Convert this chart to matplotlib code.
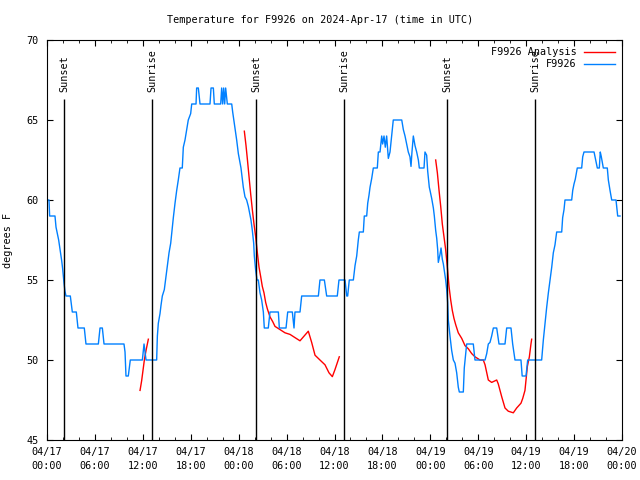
import matplotlib
matplotlib.use("Agg")
import matplotlib.pyplot as plt
import numpy as np

plt.rcParams['font.family'] = ['DejaVu Sans Mono']
plt.rcParams['font.size'] = 7.3

# observed temperature, F9926 (hours since 04/17 00:00 UTC, deg F)
obs_hours = [0.0, 0.25, 0.33, 1.0, 1.13, 1.25, 1.46, 1.67, 1.84, 1.96, 2.13, 2.25, 2.38, 2.92,
             3.09, 3.17, 3.67, 3.88, 4.67, 4.88, 6.43, 6.64, 6.93, 7.14, 9.64, 9.77, 9.89,
             10.18, 10.43, 11.94, 12.15, 12.4, 13.73, 13.82, 13.94, 14.15, 14.27, 14.44,
             14.69, 14.9, 15.07, 15.28, 15.49, 15.69, 15.82, 16.03, 16.24, 16.44, 16.65,
             16.94, 17.07, 17.28, 17.49, 17.69, 17.99, 18.12, 18.66, 18.74, 18.95, 19.16,
             20.41, 20.54, 20.83, 20.95, 21.75, 21.87, 22.0, 22.12, 22.25, 22.37, 22.58,
             23.13, 23.25, 23.45, 23.75, 23.96, 24.29, 24.58, 24.79, 25.0, 25.21, 25.54,
             25.71, 25.88, 25.96, 26.13, 26.3, 26.46, 26.67, 26.88, 27.09, 27.21, 27.71,
             27.92, 28.97, 29.09, 29.93, 30.14, 30.72, 30.93, 31.05, 31.68, 31.89, 33.98,
             34.18, 34.73, 35.02, 36.35, 36.56, 37.32, 37.53, 37.65, 37.85, 38.36, 38.57,
             38.78, 38.98, 39.11, 39.61, 39.73, 40.03, 40.16, 40.32, 40.45, 40.66, 40.86,
             41.36, 41.49, 41.7, 41.91, 42.03, 42.2, 42.36, 42.53, 42.74, 42.95, 43.16,
             43.36, 44.42, 44.62, 44.83, 45.04, 45.24, 45.45, 45.58, 45.7, 45.87, 46.08,
             46.29, 46.5, 46.62, 47.21, 47.33, 47.54, 47.67, 47.87, 47.96, 48.17, 48.38,
             48.5, 48.67, 48.8, 48.92, 49.0, 49.21, 49.34, 49.5, 49.63, 49.75, 49.92,
             50.05, 50.17, 50.25, 50.46, 50.67, 50.88, 51.09, 51.3, 51.5, 51.63, 52.13,
             52.25, 52.43, 52.55, 53.38, 53.59, 54.85, 55.06, 55.26, 55.47, 55.68, 55.89,
             56.31, 56.6, 57.35, 57.56, 58.1, 58.31, 58.6, 59.35, 59.5, 59.98, 60.19,
             61.94, 62.15, 62.36, 62.57, 62.78, 62.99, 63.2, 63.4, 63.61, 63.82, 64.45,
             64.57, 64.74, 64.86, 65.7, 65.83, 65.99, 66.15, 66.4, 66.95, 67.08, 67.24,
             68.5, 68.62, 68.75, 68.91, 69.16, 69.28, 69.41, 69.66, 70.16, 70.29, 70.5,
             70.71, 71.25, 71.46, 71.75]
obs_temps = [60, 60, 59, 59, 58.3, 58, 57.5, 56.8, 56.2, 55.7, 54.8, 54.3, 54, 54,
             53.3, 53, 53, 52, 52, 51, 51, 52, 52, 51, 51, 50.5, 49,
             49, 50, 50, 51, 50, 50, 51.5, 52.3, 52.9, 53.4, 54,
             54.4, 55.2, 55.8, 56.7, 57.3, 58.3, 58.9, 59.8, 60.6, 61.25, 62,
             62, 63.3, 63.75, 64.4, 65, 65.4, 66, 66, 67, 67, 66,
             66, 67, 67, 66, 66, 67, 66, 67, 66, 67, 66,
             66, 65.5, 64.8, 63.75, 62.9, 62, 60.8, 60.2, 60, 59.6, 58.75,
             58.1, 57.3, 56.5, 55.6, 55, 55, 54.2, 53.75, 53, 52, 52,
             53, 53, 52, 52, 53, 53, 52, 53, 53, 54, 54,
             55, 55, 54, 54, 55, 55, 54, 54, 55, 55, 55.9,
             56.5, 57.5, 58, 58, 59, 59, 59.8, 60.3, 60.8, 61.35, 62,
             62, 63, 63, 64, 63.5, 64, 63.3, 64, 62.6, 63, 64,
             65, 65, 64.4, 64, 63.5, 63, 62.7, 62.1, 63, 64, 63.4,
             63, 62.5, 62, 62, 63, 62.8, 61.8, 60.8, 60.6, 60.1, 59.5,
             59, 58.1, 57.6, 56.9, 56.1, 56.6, 57, 56.3, 56, 55.6, 55,
             54.4, 53.6, 52.5, 51.5, 50.6, 50, 49.8, 49.2, 48.3, 48, 48,
             49.5, 50.4, 51, 51, 50, 50, 50.4, 51, 51.1, 51.5, 52,
             52, 51, 51, 52, 52, 51, 50, 50, 49, 49, 50,
             50, 51.25, 52.3, 53.3, 54.2, 55, 55.8, 56.7, 57.2, 58, 58,
             58.9, 59.4, 60, 60, 60.6, 61, 61.3, 62, 62, 62.7, 63,
             63, 62.7, 62.4, 62, 62, 63, 62.7, 62, 62, 61.25, 60.6,
             60, 60, 59, 59]

# analysis runs, F9926 Analysis
ana1_hours = [11.65, 11.85, 12.06, 12.19, 12.4, 12.69]
ana1_temps = [48.1, 48.7, 49.5, 50.0, 50.6, 51.3]
ana2_hours = [24.71, 24.92, 25.08, 25.29, 25.5, 25.71, 25.92, 26.13, 26.34, 26.55, 26.76,
              26.96, 27.17, 27.38, 27.59, 27.92, 28.26, 28.55, 29.18, 29.8, 30.43, 31.05,
              31.68, 32.72, 33.14, 33.56, 34.18, 34.81, 35.31, 35.73, 36.06, 36.6]
ana2_temps = [64.3, 63.4, 62.6, 61.5, 60.4, 59.4, 58.5, 57.7, 56.7, 55.8, 55.2,
              54.6, 54.2, 53.6, 53.2, 52.7, 52.4, 52.1, 51.9, 51.7, 51.6, 51.4,
              51.2, 51.8, 51.1, 50.3, 50.0, 49.7, 49.2, 48.96, 49.4, 50.2]
ana3_hours = [48.67, 48.88, 49.09, 49.3, 49.5, 49.71, 49.92, 50.13, 50.34, 50.55, 50.75,
              50.96, 51.18, 51.5, 51.93, 52.34, 52.76, 53.18, 53.59, 54.22, 54.63, 54.85,
              55.26, 55.68, 56.31, 56.51, 56.94, 57.35, 57.76, 58.39, 58.81, 59.35, 59.57,
              59.85, 59.98, 60.15, 60.4, 60.6, 60.69]
ana3_temps = [62.5, 61.7, 60.6, 59.6, 58.5, 57.7, 56.9, 55.8, 54.6, 53.75, 53.1,
              52.6, 52.2, 51.7, 51.35, 50.9, 50.7, 50.4, 50.2, 50.0, 50.0, 49.7,
              48.75, 48.6, 48.75, 48.5, 47.7, 47.0, 46.8, 46.7, 47.0, 47.3, 47.6,
              48.1, 48.75, 49.6, 50.2, 51.0, 51.3]

sun_hours = [2.17, 13.19, 26.21, 37.23, 50.13, 61.14]
sun_labels = ['Sunset', 'Sunrise', 'Sunset', 'Sunrise', 'Sunset', 'Sunrise']

tick_hours = [0, 6, 12, 18, 24, 30, 36, 42, 48, 54, 60, 66, 72]
tick_labels = ['04/17\n00:00', '04/17\n06:00', '04/17\n12:00', '04/17\n18:00',
               '04/18\n00:00', '04/18\n06:00', '04/18\n12:00', '04/18\n18:00',
               '04/19\n00:00', '04/19\n06:00', '04/19\n12:00', '04/19\n18:00',
               '04/20\n00:00']

fig = plt.figure(figsize=(6.4, 4.8), dpi=100)
ax = fig.add_axes([47 / 640, 40 / 480, 575 / 640, 400 / 480])

red = '#ff0000'
blue = '#0080ff'
ax.plot(ana1_hours, ana1_temps, color=red, lw=1.0, label='F9926 Analysis')
ax.plot(ana2_hours, ana2_temps, color=red, lw=1.0)
ax.plot(ana3_hours, ana3_temps, color=red, lw=1.0)
ax.plot(obs_hours, obs_temps, color=blue, lw=1.0, label='F9926')

ax.vlines(sun_hours, 45, 66.3, color='black', lw=1.0)
for h, lab in zip(sun_hours, sun_labels):
    ax.text(h, 66.75, lab, rotation=90, ha='center', va='bottom')

ax.set_xlim(0, 72)
ax.set_ylim(45, 70)
ax.set_xticks(tick_hours)
ax.set_xticklabels(tick_labels, linespacing=1.45)
ax.set_xticks(np.arange(0, 73, 2), minor=True)
ax.set_yticks([45, 50, 55, 60, 65, 70])
ax.tick_params(which='both', direction='in', top=True, right=True, pad=6)
ax.tick_params(which='major', length=4)
ax.tick_params(which='minor', length=2)
ax.tick_params(axis='x', pad=5)
ax.set_ylabel('degrees F', labelpad=10)
fig.suptitle('Temperature for F9926 on 2024-Apr-17 (time in UTC)', y=1 - 20 / 480, va='center', fontsize=7.3)

ax.legend(loc='upper right', frameon=False, markerfirst=False, handlelength=3.0,
          borderaxespad=0.3, labelspacing=0.2, handletextpad=0.8)

fig.savefig('out.png', dpi=100)
